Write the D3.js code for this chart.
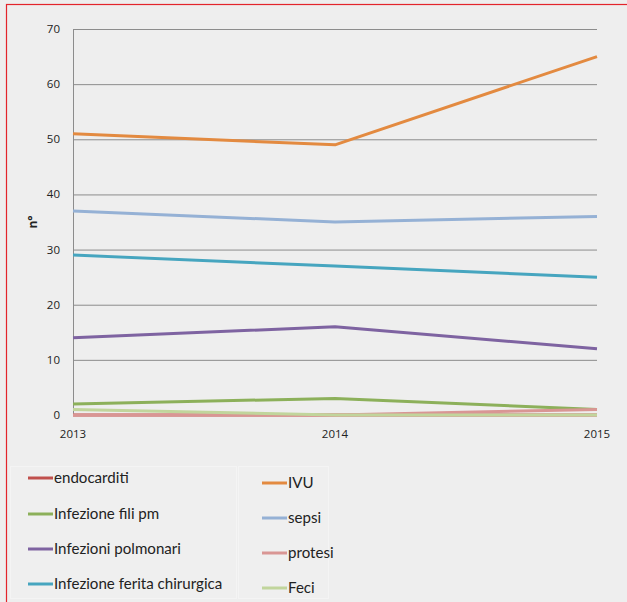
<!DOCTYPE html>
<html><head><meta charset="utf-8">
<script src="https://cdn.jsdelivr.net/npm/d3@7/dist/d3.min.js"></script>
<style>html,body{margin:0;padding:0;background:#fff;}</style>
</head><body><svg id="c" width="627" height="602"></svg>
<script>
const years = ["2013","2014","2015"];
const seriesNames = ["endocarditi","Infezione fili pm","Infezioni polmonari","Infezione ferita chirurgica","IVU","sepsi","protesi","Feci"];
const endocarditi = [0,0,0];
const filiPm = [2,3,1];
const polmonari = [14,16,12];
const feritaChirurgica = [29,27,25];
const ivu = [51,49,65];
const sepsi = [37,35,36];
const protesi = [0,0,1];
const feci = [1,0,0];
const yTicks = [0,10,20,30,40,50,60,70];
const colors = ["#c0504d","#8cb05a","#7e63a1","#46a5bf","#e38a40","#95b1d5","#d99694","#c1d59c"];
const values = [endocarditi,filiPm,polmonari,feritaChirurgica,ivu,sepsi,protesi,feci];

const svg = d3.select("#c");
const font = "'Open Sans', 'Liberation Sans', sans-serif";
const legFont = "Lato, 'Open Sans', sans-serif";
svg.append("rect").attr("x",0).attr("y",0).attr("width",627).attr("height",602).attr("fill","#eeeeee");
svg.append("rect").attr("x",6.5).attr("y",4.5).attr("width",640).attr("height",640).attr("fill","none").attr("stroke","#e3242b").attr("stroke-width",1.2);

const x = d3.scalePoint().domain(years).range([73,597]);
const y = d3.scaleLinear().domain([0,70]).range([415,29]);

// gridlines
svg.append("g").selectAll("line").data(yTicks).join("line")
  .attr("x1",73).attr("x2",597).attr("y1",d=>y(d)+0.5).attr("y2",d=>y(d)+0.5)
  .attr("stroke","#8c8c8c").attr("stroke-width",1);
svg.append("line").attr("x1",73.5).attr("x2",73.5).attr("y1",y(70)).attr("y2",y(0)).attr("stroke","#8c8c8c");

// y labels
svg.append("g").selectAll("text").data(yTicks).join("text")
  .attr("x",60).attr("y",d=>y(d)+4).attr("text-anchor","end")
  .attr("font-family",font).attr("font-size",11.5).attr("fill","#222").text(d=>d);
// x labels
svg.append("g").selectAll("text").data(years).join("text")
  .attr("x",d=>x(d)).attr("y",438).attr("text-anchor","middle")
  .attr("font-family",font).attr("font-size",11.5).attr("fill","#222").text(d=>d);

svg.append("text").attr("transform","translate(37,222) rotate(-90)").attr("text-anchor","middle")
  .attr("font-family",font).attr("font-size",12).attr("font-weight","bold").attr("fill","#222").text("n°");

const line = d3.line().x((d,i)=>x(years[i])).y(d=>y(d));
svg.append("g").selectAll("path").data(values).join("path")
  .attr("d",d=>line(d)).attr("fill","none").attr("stroke",(d,i)=>colors[i])
  .attr("stroke-width",3).attr("stroke-linejoin","round");

// legend
const leg = svg.append("g");
leg.append("rect").attr("x",10.5).attr("y",466.5).attr("width",226).attr("height",132).attr("fill","#efefef").attr("stroke","#f4f4f4");
leg.append("rect").attr("x",238.5).attr("y",466.5).attr("width",90).attr("height",132).attr("fill","#efefef").attr("stroke","#f4f4f4");
const legPos = [
  [28,478],[28,514],[28,549],[28,584],
  [262,483],[262,518],[262,553],[262,588]
];
seriesNames.forEach((n,i)=>{
  const [lx,ly] = legPos[i];
  leg.append("line").attr("x1",lx).attr("x2",lx+25).attr("y1",ly).attr("y2",ly)
    .attr("stroke",colors[i]).attr("stroke-width",3);
  leg.append("text").attr("x",lx+26).attr("y",ly+5).attr("font-family",legFont)
    .attr("font-size",15.1).attr("fill","#222").text(n);
});
</script></body></html>
